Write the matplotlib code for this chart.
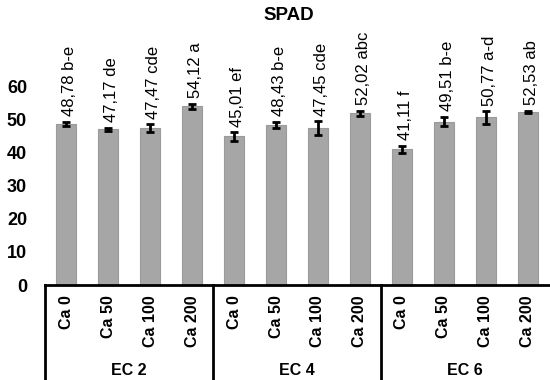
import numpy as np
import matplotlib
matplotlib.use('Agg')
import matplotlib.pyplot as plt

plt.rcParams['font.family'] = ['Liberation Sans', 'DejaVu Sans']

groups = ['EC 2', 'EC 4', 'EC 6']
doses = ['Ca 0', 'Ca 50', 'Ca 100', 'Ca 200']
spad = [48.78, 47.17, 47.47, 54.12,
        45.01, 48.43, 47.45, 52.02,
        41.11, 49.51, 50.77, 52.53]
err = [0.7, 0.4, 1.2, 0.8,
       1.3, 1.0, 2.1, 0.7,
       1.1, 1.4, 1.9, 0.3]
letters = ['b-e', 'de', 'cde', 'a',
           'ef', 'b-e', 'cde', 'abc',
           'f', 'b-e', 'a-d', 'ab']

fig = plt.figure(figsize=(5.5, 3.8), dpi=100)
ax = fig.add_axes([0.082, 0.25, 0.916, 0.608])

x = np.arange(len(spad))
ax.bar(x, spad, width=0.48, color='#a6a6a6', edgecolor='#9a9a9a', linewidth=0.8)
ax.errorbar(x, spad, yerr=err, fmt='none', ecolor='black', elinewidth=2,
            capsize=3, capthick=2)

for xi, v, e, l in zip(x, spad, err, letters):
    s = f'{v:.2f}'.replace('.', ',') + ' ' + l
    ax.annotate(s, xy=(xi, v + e), xytext=(2.5, 4), textcoords='offset points',
                rotation=90, ha='center', va='bottom', fontsize=12)

ax.set_xlim(-0.5, len(spad) - 0.5)
ax.set_ylim(0, 70)
ax.set_yticks(range(0, 61, 10))
for t in ax.get_yticklabels():
    t.set_fontweight('bold')
    t.set_fontsize(13)
ax.tick_params(axis='y', length=0, pad=13)
ax.tick_params(axis='x', length=0)
ax.set_xticks([])

for sp in ['top', 'right', 'left']:
    ax.spines[sp].set_visible(False)
ax.spines['bottom'].set_linewidth(2)

tr = ax.get_xaxis_transform()
for i, xi in enumerate(x):
    ax.text(xi, -0.045, doses[i % 4], transform=tr, rotation=90, ha='center',
            va='top', fontsize=11.5, fontweight='bold')
for g, name in enumerate(groups):
    ax.text(g * 4 + 1.5, -0.37, name, transform=tr, ha='center', va='center',
            fontsize=11.5, fontweight='bold')
for b in [-0.5, 3.5, 7.5]:
    ax.plot([b, b], [0, -0.41], transform=tr, color='black', lw=2, clip_on=False)

fig.text(0.525, 0.96, 'SPAD', ha='center', va='center', fontsize=13.5,
         fontweight='bold')

fig.savefig('out.png', dpi=100)
